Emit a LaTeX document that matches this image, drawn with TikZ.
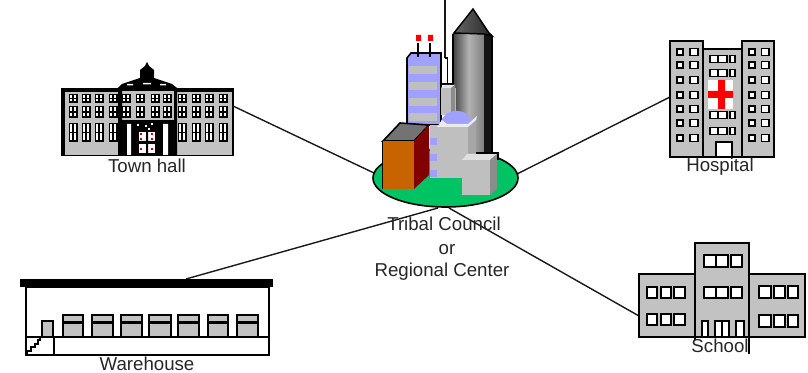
\documentclass[tikz,border=0pt]{standalone}
\usepackage{fontspec}
\setmainfont{Liberation Sans}
\definecolor{dither}{gray}{0.76}
\definecolor{dgreen}{RGB}{0,195,100}
\definecolor{sblue}{RGB}{160,160,255}
\definecolor{sgray}{gray}{0.75}
\definecolor{ored}{RGB}{200,100,0}
\definecolor{dred}{RGB}{128,0,0}
\tikzset{
 wire/.style={draw=black!90,line width=1.05pt},
 wall/.style={draw=black,line width=1.3pt,fill=dither},
 pane/.style={draw=black,line width=1.4pt,fill=white},
 lbl/.style={font=\fontsize{14}{16}\selectfont,text=black!85,inner sep=0pt}
}
\newcommand{\thwindow}[4]{% x,y,w,h
 \fill[black] (#1-#3/2,#2) rectangle ++(#3,#4);
 \fill[white] (#1-#3/2+1.5,#2+1.5) rectangle (#1-0.7,#2+#4/2-0.7);
 \fill[white] (#1+0.7,#2+1.5) rectangle (#1+#3/2-1.5,#2+#4/2-0.7);
 \fill[white] (#1-#3/2+1.5,#2+#4/2+0.7) rectangle (#1-0.7,#2+#4-1.5);
 \fill[white] (#1+0.7,#2+#4/2+0.7) rectangle (#1+#3/2-1.5,#2+#4-1.5);
}
\begin{document}
\begin{tikzpicture}[x=0.75pt,y=-0.75pt]
\useasboundingbox (0,0) rectangle (808,373);
% anchors
\coordinate (top) at (445,0);
\coordinate (hub) at (445,58);
\coordinate (townE) at (233,106);
\coordinate (hubW) at (374,173);
\coordinate (hospW) at (670,97);
\coordinate (hubE) at (517,174);
\coordinate (schoolW) at (639,316);
\coordinate (hubS) at (449,208);
\coordinate (wareN) at (186,279);
\coordinate (hubSW) at (438,208);
\draw[wire] (top) -- (hub);
\draw[wire] (townE) -- (hubW);
\draw[wire] (hospW) -- (hubE);
\draw[wire] (schoolW) -- (hubS);
\draw[wire] (wareN) -- (hubSW);

% ===== central complex =====
\draw[line width=1.2pt,fill=dgreen] (445.5,178) ellipse (72.5 and 29);
\draw[line width=1pt] (hub) -- (447.5,58) -- (447.5,84);
\draw[line width=1.2pt] (441,84) -- (453,84);
% tower
\path[left color=black!75,right color=black!50,middle color=black!30] (453,34) rectangle (484,153);
\fill[black!92] (484,34) rectangle (492,153);
\draw[line width=1.2pt] (453,153) -- (453,34) (492,153) -- (492,36);
\path[draw=black,line width=1.1pt,left color=black!60,right color=black!85] (454,33) -- (473,9) -- (489,33) -- (492,36) -- (484,34) -- cycle;
% blue block
\draw[line width=1.2pt,fill=sblue] (407,125) -- (407,58) -- (411,53) -- (441,53) -- (441,125) -- cycle;
\foreach \yy in {66,82,98,113} \fill[sgray] (409,\yy) rectangle (437,\yy+8);
% antennas
\draw[line width=1.3pt] (418,43) -- (418,57) (430,43) -- (430,57);
\fill[red] (416,35) rectangle (421,41) (428,35) rectangle (433,41);
% small column
\fill[sgray] (441,88) rectangle (456,115);
\fill[black!10] (441,88) -- (445,85) -- (455,85) -- (451,88) -- cycle;
\fill[black!45] (451,88) -- (455,85) -- (455,115) -- (451,115) -- cycle;
% central lower blocks
\fill[black!35] (468,127) -- (476,117) -- (476,153) -- (468,178) -- cycle;
\fill[sgray] (430,125) rectangle (468,178);
\foreach \yy in {138,154,170} \fill[sblue] (430,\yy) rectangle (437,\yy+7);
\fill[sblue] (440,125) .. controls (443,106) and (470,106) .. (473,125) -- cycle;
\fill[black!8] (437,127) -- (442,120) -- (447,124) -- (468,124) -- (477,116) -- (476,120) -- (468,127) -- cycle;
% front block
\fill[sgray] (462,160) rectangle (490,195);
\fill[black!12] (462,160) -- (467,154) -- (497,154) -- (490,160) -- cycle;
\fill[black!45] (490,160) -- (497,154) -- (497,189) -- (490,195) -- cycle;
\draw[line width=1.2pt] (476,153) -- (498,153) -- (498,160);
% orange block
\draw[line width=1.2pt,fill=black!55] (383,141) -- (400,123) -- (429,125) -- (414,141) -- cycle;
\draw[line width=1.2pt] (383,141) -- (383,189);
\fill[ored] (383,141) rectangle (414,189);
\fill[dred] (414,141) -- (429,125) -- (429,175) -- (414,189) -- cycle;

% ===== town hall =====
\fill[black] (61,88) rectangle (234,156);
\fill[dither] (65,92) rectangle (118,155);
\fill[dither] (177,92) rectangle (232,155);
\fill[black] (118,88) -- (122,84) -- (131,81) -- (140,78) -- (140,70) -- (145,66) -- (147,62) -- (149,66) -- (154,70) -- (154,78) -- (163,81) -- (172,84) -- (177,88) -- cycle;
\fill[white] (127,84) rectangle (133,85.5) (143,83) rectangle (151,84.5) (160,84) rectangle (166,85.5);
\fill[dither] (122,91) rectangle (174,120);
\fill[black] (118,88) rectangle (122,156) (174,88) rectangle (177,156);
\fill[black] (122,120) rectangle (174,156);
\fill[white] (127,124) rectangle (131,155) (163,124) rectangle (168,155);
\fill[white] (139,132) rectangle (155,153);
\fill[black] (146,132) rectangle (148,153) (139,141) rectangle (155,144);
\foreach \xx/\yy in {141/134,152/134,141/149,152/149,141/139,152/139} \fill[red!80!black] (\xx-1,\yy-1) rectangle +(2,2);
\foreach \xx/\yy in {138/125,146/126,152/124,149/129} \fill[white] (\xx-1,\yy-1) rectangle +(2,2);
\foreach \xx in {73,86,99,113,126,140,155,167,182,196,209,223}{
  \thwindow{\xx}{94}{9}{9}
  \thwindow{\xx}{106}{9}{12}
}
\foreach \xx in {73,86,99,113,182,196,209,223}{
  \thwindow{\xx}{123}{9}{19}
}
\node[lbl] (townhall) at (147,166) {Town hall};

% ===== hospital =====
\draw[wall] (703,49) rectangle (742,157);
\draw[wall] (670,41) rectangle (703,157);
\draw[wall] (742,41) rectangle (774,157);
\foreach \yy in {52,65,80,95,109,123,138}{
  \draw[pane] (677,\yy-3) rectangle +(6,6);
  \draw[pane] (690,\yy-3.5) rectangle +(8,7);
  \draw[pane] (749,\yy-3) rectangle +(6,6);
  \draw[pane] (761.5,\yy-3.5) rectangle +(7.5,7);
}
\foreach \yy in {59,73,115,131}{
  \draw[pane] (710,\yy-3.5) rectangle (718,\yy+3.5);
  \draw[pane] (718,\yy-3.5) rectangle (727,\yy+3.5);
  \draw[pane] (730,\yy-3.5) rectangle (735,\yy+3.5);
}
\fill[white] (708,80) rectangle (733,109);
\fill[red] (718,80) rectangle (725,109) (708,91) rectangle (733,98);
\draw[pane] (716,142) rectangle (732,157);
\node[lbl] (hospital) at (720,167) {Hospital};

% ===== school =====
\draw[wall] (639,274) rectangle (695,337);
\draw[wall] (749,274) rectangle (805,337);
\draw[wall] (695,243) rectangle (749,337);
\foreach \a/\b in {647/657,661/671,674/685}{
  \draw[pane] (\a,287) rectangle (\b,298);
  \draw[pane] (\a,314) rectangle (\b,325);
}
\foreach \a/\b in {759/771,774/785,788/798}{
  \draw[pane] (\a,286) rectangle (\b,298);
  \draw[pane] (\a,315) rectangle (\b,327);
}
\foreach \a/\b in {704/716,716/728,731/742}{
  \draw[pane] (\a,255) rectangle (\b,267);
  \draw[pane] (\a,287) rectangle (\b,298);
}
\foreach \a/\b in {702/708,715/722,722/729,736/744}{
  \draw[pane] (\a,321) rectangle (\b,337);
}
\draw[line width=1.1pt] (749,337) -- (749,354);
\draw[line width=1.1pt] (695,337) -- (695,340);
\node[lbl] (school) at (720,346) {School};

% ===== warehouse =====
\fill[black] (20,279) rectangle (273,287);
\draw[line width=1.2pt,fill=white] (26,287) rectangle (269,355);
\draw[line width=1.2pt] (26,337) -- (269,337) (54,337) -- (54,355);
\draw[line width=1.1pt] (27,354) -- (27,351) -- (31,351) -- (31,347) -- (35,347) -- (35,344) -- (38,344) -- (38,340) -- (40,340) -- (40,337);
\draw[wall] (42,321) rectangle (53,337);
\foreach \a/\b in {63/83,92/113,121/142,149/171,178/199,208/228,237/258}{
  \draw[wall] (\a,315) rectangle (\b,337);
  \fill[black] (\a,321) rectangle (\b,324);
}
\node[lbl] (warehouse) at (147,364) {Warehouse};

% ===== centre label =====
\node[lbl] (tribal) at (444,224) {Tribal Council};
\node[lbl] (or) at (447,250) {or};
\node[lbl] (regional) at (442,272) {Regional Center};
\end{tikzpicture}
\end{document}
